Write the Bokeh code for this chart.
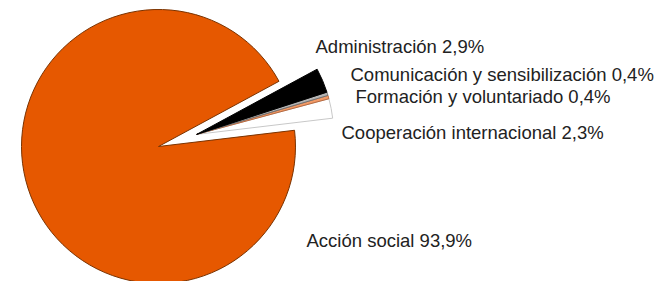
import numpy as np
from bokeh.plotting import figure
from bokeh.models import Range1d, ColumnDataSource
from bokeh.core.properties import value
from bokeh.embed import file_html
from bokeh.resources import INLINE

# Data (counter-clockwise order starting from the lower edge of the gap)
categories = ["Cooperación internacional", "Formación y voluntariado",
              "Comunicación y sensibilización", "Administración", "Acción social"]
shares = [2.3, 0.4, 0.4, 2.9, 93.9]
share_labels = ["2,3%", "0,4%", "0,4%", "2,9%", "93,9%"]
exploded = [True, True, True, True, False]

# Styles
colors = ["#FFFFFF", "#F29A66", "#B4B4B4", "#000000", "#E65800"]
lines = ["#C8C8C8", "#B86A40", "#707070", "#000000", "#7A3300"]

W, H = 658, 281
cx, cy, R = 158, 135, 137
start_deg = 6.8
explode_dist = 40

vals = np.array(shares, dtype=float)
fr = vals / vals.sum()
ends = np.cumsum(fr) * 2 * np.pi + np.radians(start_deg)
starts = ends - fr * 2 * np.pi
group_mid = (starts[0] + ends[3]) / 2
xs, ys = [], []
for e in exploded:
    if e:
        xs.append(cx + explode_dist * np.cos(group_mid))
        ys.append(cy + explode_dist * np.sin(group_mid))
    else:
        xs.append(cx)
        ys.append(cy)

src = ColumnDataSource(dict(x=xs, y=ys, start=starts, end=ends,
                            fill=colors, line=lines))

p = figure(width=W, height=H, x_range=Range1d(0, W), y_range=Range1d(0, H),
           output_backend="svg", toolbar_location=None, min_border=0)
p.axis.visible = False
p.grid.visible = False
p.outline_line_color = None
p.background_fill_color = "white"
p.border_fill_color = "white"

p.wedge(x="x", y="y", radius=R, start_angle="start", end_angle="end",
        fill_color="fill", line_color="line", line_width=1, source=src)

# Label layout (positions)
lab_x = [341, 355, 350, 315, 306]
lab_y = [149, 185, 207, 235, 41]
texts = [f"{c} {s}" for c, s in zip(categories, share_labels)]
p.text(x=lab_x, y=lab_y, text=texts, text_font=value("Liberation Sans"),
       text_font_size="18.5px", text_color="#222222", text_align="left",
       text_baseline="middle")

open("out.html", "w").write(file_html(p, INLINE))
